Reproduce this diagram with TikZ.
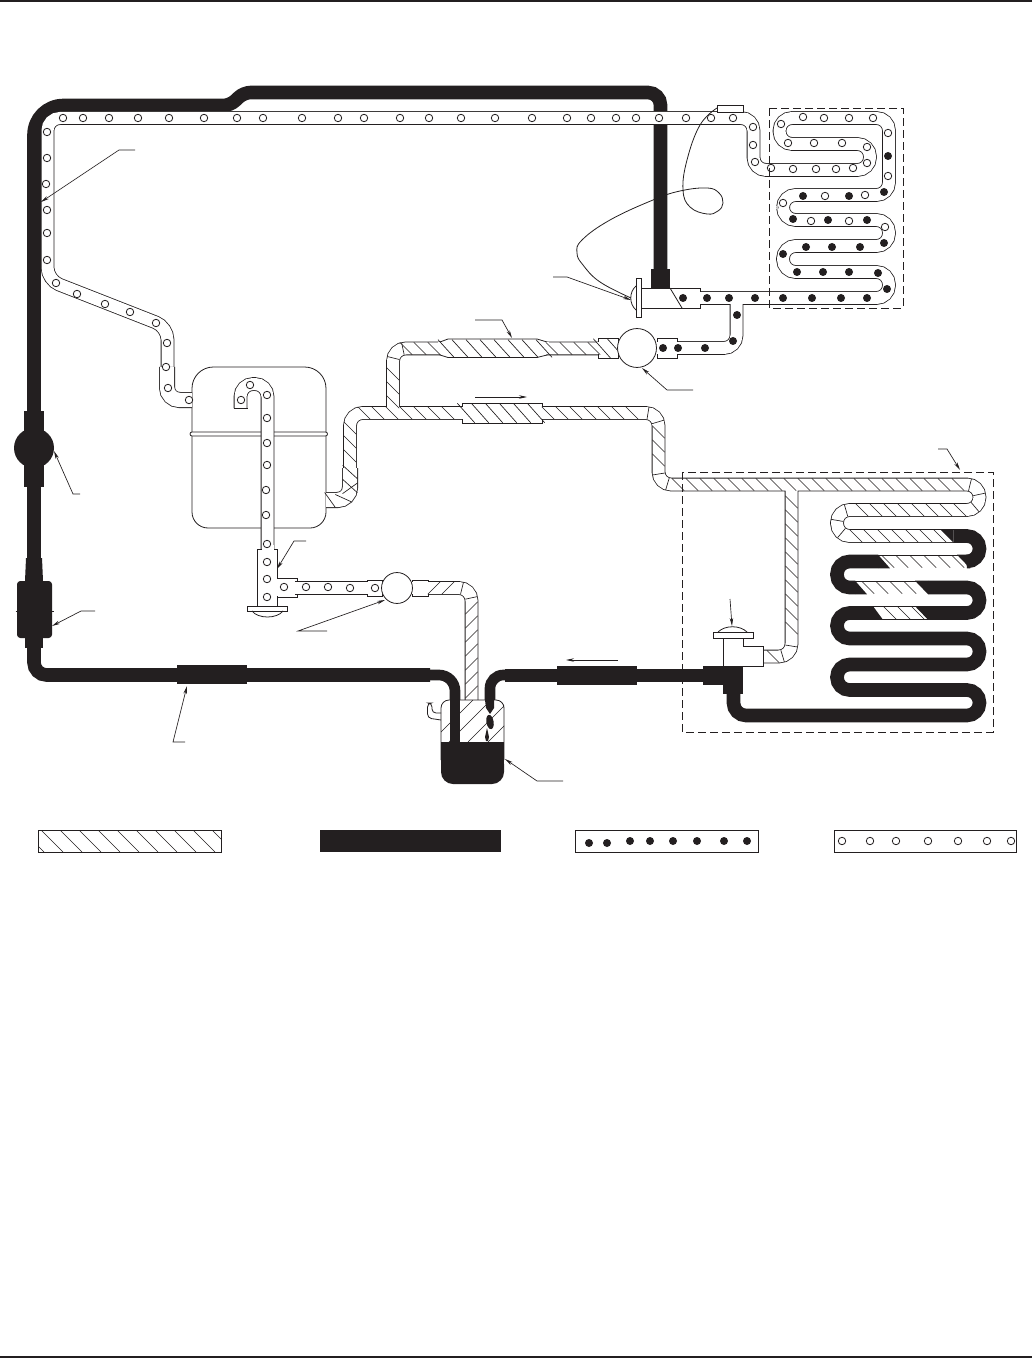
\documentclass[tikz,border=0pt]{standalone}
\usepackage{xcolor}
\usepackage{tikz}
\usetikzlibrary{arrows.meta,decorations.markings}

\definecolor{liquidblack}{HTML}{231F20}

\newcommand{\tube}[2][10.2pt]{%
  \draw[tubeedge, line width=#1] #2;
  \draw[tubebore, line width=#1-1.2pt] #2;}
\newcommand{\hcollar}[4]{%
  \draw[fitting] (#1,#3-#4) rectangle (#2,#3+#4);
  \draw[tubebore, line width=9pt] (#1-1.5,#3) -- (#2+1.5,#3);}

\begin{document}
\begin{tikzpicture}[
    x=0.75pt, y=-0.75pt,
    tubeedge/.style={draw=liquidblack, line cap=butt, rounded corners=9.4pt},
    tubebore/.style={draw=white, line cap=butt, rounded corners=9.4pt},
    liquid/.style={draw=liquidblack, line width=10.2pt, line cap=butt, rounded corners=9.4pt},
    fitting/.style={draw=liquidblack, fill=white, line width=0.6pt},
    solid fitting/.style={fill=liquidblack},
    thinline/.style={draw=liquidblack, line width=0.6pt},
    hatchline/.style={draw=liquidblack, line width=0.5pt},
    hatch/.style 2 args={decorate, decoration={markings,
        mark=between positions 3pt and -1pt step 10.5pt with {\draw[hatchline] (-#1,#2) -- (#1,-#2);}}},
    hh/.style={hatch={4.6pt}{4.6pt}},
    hv/.style={hatch={-4.6pt}{4.6pt}},
    hc/.style={hatch={0pt}{4.6pt}, rounded corners=9.4pt},
    opendot/.style={draw=liquidblack, fill=white, line width=0.6pt},
    fulldot/.style={fill=liquidblack},
    leader/.style={draw=liquidblack, line width=0.5pt, -{Stealth[length=6pt, width=2.6pt]}},
    boxline/.style={draw=liquidblack, line width=0.6pt, dash pattern=on 6pt off 3pt}
]
    \useasboundingbox (0,0) rectangle (1032,1358);
    \fill[liquidblack] (0,0) rectangle (1032,2);
    \fill[liquidblack] (0,1355.5) rectangle (1032,1358);

    % high side liquid line
    \draw[liquid] (660.5,272) -- (660.5,92.5) [rounded corners=5pt] -- (244,92.5) -- (230,105.5) [rounded corners=22pt] -- (34,105.5) -- (34,400) [rounded corners=9.4pt] -- (34,675) -- (430,675);
    \draw[liquid, line width=8pt, rounded corners=12pt] (425,675) -- (455,675) -- (455,743);
    \draw[liquid, line width=8pt, rounded corners=10pt] (490,707) -- (490,675) -- (515,675);
    \draw[liquid] (505,675.5) -- (710,675.5);
    \fill[solid fitting] (651,269) rectangle (670,288);
    \fill[solid fitting] (24,411) rectangle (44,487);
    \fill[solid fitting] (34,448) circle[radius=15pt];
    \fill[solid fitting] (26,558) -- (42,558) -- (43,581) -- (25,581) -- cycle;
    \fill[solid fitting, rounded corners=2.5pt] (17,581) rectangle (52,638);
    \fill[solid fitting] (25,630) rectangle (43,648);
    \draw[thinline] (15.5,611) -- (53.5,611);
    \fill[solid fitting] (177,665) rectangle (247,684);
    \fill[solid fitting] (557,666) rectangle (637,685);
    \fill[solid fitting] (703,666) rectangle (743,685);
    \fill[solid fitting] (723,680) rectangle (743,694);

    % compressor
    \draw[fitting, rounded corners=16pt] (192,432) -- (192,367) -- (326,367) -- (326,432);
    \draw[fitting, rounded corners=12pt] (192,432) -- (192,528) -- (326,528) -- (326,432);
    \draw[fitting, rounded corners=1.5pt] (190,432) rectangle (327.5,436);

    % low pressure vapor
    \tube{(192,400) -- (167.5,400) -- (167.5,327) -- (47.5,280) -- (47.5,118) -- (753.5,118) -- (753.5,170) -- (870,170) -- (870,144) -- (779.5,144) -- (779.5,118) -- (889,118) -- (889,195) -- (783,195) -- (783,220) -- (889,220) -- (889,246) -- (783,246) -- (783,272) -- (889,272) -- (889,298) -- (690,298) (736.5,298) -- (736.5,348) -- (663,348)}
    \tube[12pt]{(192,400) -- (167,400) -- (167,367)}
    \draw[fitting] (717,105) rectangle (743,112);
    \tube{(240.5,408) -- (240.5,384) -- (267.5,384) -- (267.5,552)}
    \draw[thinline] (233.5,408) -- (247.5,408);
    \draw[fitting] (257,549) rectangle (277,607);
    \draw[fitting] (277,578) rectangle (297,597);
    \fill[white] (275,579) rectangle (279,596);
    \draw[tubebore, line width=9pt] (267.5,545) -- (267.5,552);
    \tube{(295,588) -- (370,588)}
    \hcollar{367}{382}{588}{8}
    \hcollar{657}{677}{348}{10}

    % upper valve
    \draw[fitting] (641,288) rectangle (700,308);
    \draw[tubebore, line width=9pt] (695,298) -- (705,298);
    \draw[thinline] (670,288) -- (682,308);
    \draw[fitting] (636,278) rectangle (641,317);
    \draw[thinline] (636,286) .. controls (629,292) and (629,304) .. (636,310);
    \draw[thinline] plot[smooth, tension=0.7] coordinates {(717,108) (700,125) (687,160) (683,190) (690,207) (707,214) (718,211) (723,203) (719,193) (707,188) (680,191) (653,200) (610,220) (582,240) (577,253) (583,265) (600,282) (631,298)};

    % lower valve
    \draw[fitting] (723,638) -- (723,666) -- (763,666) -- (763,646) -- (743,646) -- (743,638);
    \draw[fitting] (713,632) rectangle (753,638);
    \draw[thinline] (718,632) .. controls (725,625) and (740,625) .. (747,632);

    % plate below the suction fitting
    \draw[fitting] (247,606) rectangle (287,611);
    \draw[thinline] (252,611) .. controls (258,619) and (277,619) .. (283,611);

    % hot vapor
    \tube{(350,470) -- (350,413) -- (658.5,413) -- (658.5,484.5) -- (979.5,484.5) -- (979.5,510) -- (837,510) -- (837,536) -- (960,536) (393,413) -- (393,348.5) -- (600,348.5) (791.5,490) -- (791.5,656.5) -- (763,656.5)}
    \tube{(855,561.5) -- (975,561.5) (850,587.5) -- (930,587.5) (870,613) -- (930,613)}
    \tube[12pt]{(326,500) -- (350,500) -- (350,468)}
    \hcollar{462}{542}{413}{10}
    \hcollar{598}{618}{348}{10}
    \draw[fitting] (440,342) -- (448,339) -- (537,339) -- (547,342) -- (547,355) -- (537,357.5) -- (448,357.5) -- (440,355) -- cycle;
    \draw[tubebore, line width=9pt] (438,348.5) -- (549,348.5);
    \path[hh] (402,348.5) -- (442,348.5);
    \path[hatch={6pt}{6.6pt}] (442,348.5) -- (546,348.5);
    \path[hh] (548,348.5) -- (598,348.5);
    \path[hatch={6.5pt}{7.3pt}] (598,348.5) -- (618,348.5);
    \path[hv] (393,406) -- (393,362);
    \path[hc] (393,362) -- (393,348.5) -- (405,348.5);
    \path[hv] (350,460) -- (350,425);
    \path[hatch={-5pt}{5.5pt}] (350,490) -- (350,467);
    \path[hatch={4pt}{5.6pt}, rounded corners=9.4pt] (326,500) -- (350,500) -- (350,490);
    \path[hh] (360,413) -- (462,413);
    \path[hatch={6.5pt}{7.3pt}] (462,413) -- (542,413);
    \path[hh] (544,413) -- (644,413);
    \path[hc] (644,413) -- (658.5,413) -- (658.5,427);
    \path[hv] (658.5,428) -- (658.5,470);
    \path[hc] (658.5,470) -- (658.5,484.5) -- (672,484.5);
    \path[hh] (674,484.5) -- (966,484.5);
    \path[hc] (966,484.5) -- (979.5,484.5) -- (979.5,510) -- (966,510);
    \path[hh] (964,510) -- (850,510);
    \path[hc] (850,510) -- (837,510) -- (837,536) -- (850,536);
    \path[hh] (852,536) -- (945,536);
    \path[hh] (962,561.5) -- (883,561.5);
    \path[hh] (864,587.5) -- (920,587.5);
    \path[hh] (922,613) -- (880,613);
    \path[hv] (791.5,498) -- (791.5,642);
    \path[hc] (791.5,642) -- (791.5,656.5) -- (777,656.5);
    \path[hh] (777,656.5) -- (763,656.5);
    \draw[thinline] (763,646) -- (763,666);

    % evaporator liquid
    \draw[liquid] (953.5,536) -- (979.5,536) -- (979.5,561.5) -- (970,561.5);
    \draw[liquid] (878,561.5) -- (837,561.5) -- (837,587.5) -- (855,587.5);
    \draw[liquid] (928,587.5) -- (979.5,587.5) -- (979.5,613) -- (928,613);
    \draw[liquid] (873,613) -- (837,613) -- (837,638.5) -- (979.5,638.5) -- (979.5,664.5) -- (837,664.5) -- (837,690) -- (979.5,690) -- (979.5,715.5) -- (733.5,715.5) -- (733.5,690);
    \foreach \xa/\ya/\xb/\yb/\xc/\yc in {940/529.2/953.6/529.2/953.6/542.8, 957/554.7/970.1/554.7/970.1/568.3, 878/554.7/878/568.3/890/568.3, 855/580.7/855/594.3/867/594.3, 915/580.7/928.1/580.7/928.1/594.3, 915/606.2/928.1/606.2/928.1/619.8, 873/606.2/873/619.8/883/619.8}
        \fill[liquidblack] (\xa,\ya) -- (\xb,\yb) -- (\xc,\yc) -- cycle;

    % suction to receiver
    \tube{(412,588) -- (471.5,588) -- (471.5,702)}
    \hcollar{412}{428}{588}{8}
    \path[hatch={-4.6pt}{4.6pt}] (430,588) -- (458,588);
    \path[hc] (458,588) -- (471.5,588) -- (471.5,602);
    \path[hatch={4.6pt}{4.6pt}] (471.5,604) -- (471.5,700);

    % receiver
    \draw[fitting, rounded corners=6pt] (441,760) -- (441,700) -- (504,700) -- (504,760);
    \begin{scope}
        \clip (441,700) rectangle (504,742);
        \foreach \hs in {1173,1191,1210,1230} \draw[hatchline] (\hs-742,742) -- (\hs-700,700);
    \end{scope}
    \fill[liquidblack] (441,742) rectangle (504,768);
    \fill[liquidblack, rounded corners=9pt] (441,752) rectangle (504,784);
    \fill[liquidblack] (450,700) rectangle (460,743);
    \fill[liquidblack] (485,700) -- (494,700) -- (494,708) -- (490,714) -- (486,708) -- cycle;
    \fill[liquidblack, rotate around={10:(490,722)}] (490,722) ellipse[x radius=2.7pt, y radius=5.4pt];
    \fill[liquidblack] (487,728) -- (489,737) -- (488,741) -- (486,741) -- (485,737) -- cycle;
    \draw[thinline, rounded corners=3pt] (441,720) -- (427.5,718) -- (427.5,703) -- (432,703) -- (432,713) -- (441,713);

    % circles
    \draw[fitting] (637,348) circle[radius=14.6pt];
    \draw[fitting] (397,588) circle[radius=11.6pt];

    % open and full dots along the tubes
    \foreach \dx in {63,83,109,138,169,204,237,263,302,338,364,400,429,461,495,532,567,591,616,636,659,686,711,733}
        \draw[opendot] (\dx,118) circle[radius=2.8pt];
    \foreach \dx/\dy in {47/132,47/158,46/184,47/210,47/233,47/260,56/283,77/294,105/304,130/312,156/323,167/343,166/367,168/388,189/400,
        753/127,753/145,755/162,771/168,793/169,816/169,836/169,853/168,867/163,867/147,842/143,814/143,788/143,781/124,803/117,824/118,849/118,873/118,888/133,888/176,865/195,825/196,783/203,811/221,849/221,885/227,
        241/400,250/385,267/395,267/418,267/443,267/465,266/490,266/515,267/544,267/562,267/579,267/597,284/587,306/587,328/587,350/588,375/588}
        \draw[opendot] (\dx,\dy) circle[radius=2.8pt];
    \foreach \dx/\dy in {888/156,884/192,849/196,803/196,793/219,828/220,867/220,884/243,860/247,832/247,806/247,783/254,797/272,823/272,849/272,878/273,887/289,867/298,841/298,812/298,783/298,755/298,729/298,707/298,683/298,737/315,733/341,705/348,678/348,663/348}
        \fill[fulldot] (\dx,\dy) circle[radius=3pt];

    % leaders
    \draw[leader] (135,150) -- (119,150) -- (41,202);
    \draw[leader] (80,494) -- (73,494) -- (54,451);
    \draw[leader] (95,611) -- (81,611) -- (52,626);
    \draw[leader] (185,742) -- (173,742) -- (187,686);
    \draw[leader] (563,781) -- (537,781) -- (505,759);
    \draw[leader] (618,660) -- (566,660);
    \draw[leader] (730,599) -- (732,626);
    \draw[leader] (938,449) -- (947,449) -- (960,470);
    \draw[leader] (475,397) -- (527,397);
    \draw[leader] (475,320) -- (502,320) -- (512,338);
    \draw[leader] (693,390) -- (667,390) -- (642,368);
    \draw[leader] (553,277) -- (567,277) -- (631,300);
    \draw[leader] (306,541) -- (294,541) -- (277,569);
    \draw[leader] (327,631) -- (298,631) -- (385,600);

    % dashed coil boxes
    \draw[boxline] (769,108) rectangle (903,308);
    \draw[boxline] (682,472) rectangle (993,732);

    % legend strips
    \draw[thinline] (38,830) rectangle (221,852);
    \begin{scope}
        \clip (38,830) rectangle (221,852);
        \foreach \lx in {22,41,...,212} \draw[hatchline] (\lx,830) -- (\lx+22,852);
    \end{scope}
    \fill[liquidblack] (320,830) rectangle (501,852);
    \draw[thinline] (575,830) rectangle (758,852);
    \foreach \dx/\dy in {589/843,607/843,630/841,650/841,673/841,697/841,724/841,747/841}
        \fill[fulldot] (\dx,\dy) circle[radius=3pt];
    \draw[thinline] (834,830) rectangle (1016.5,852);
    \foreach \dx in {842,870,896,928,958,987,1011}
        \draw[opendot] (\dx,841) circle[radius=2.8pt];
\end{tikzpicture}
\end{document}
